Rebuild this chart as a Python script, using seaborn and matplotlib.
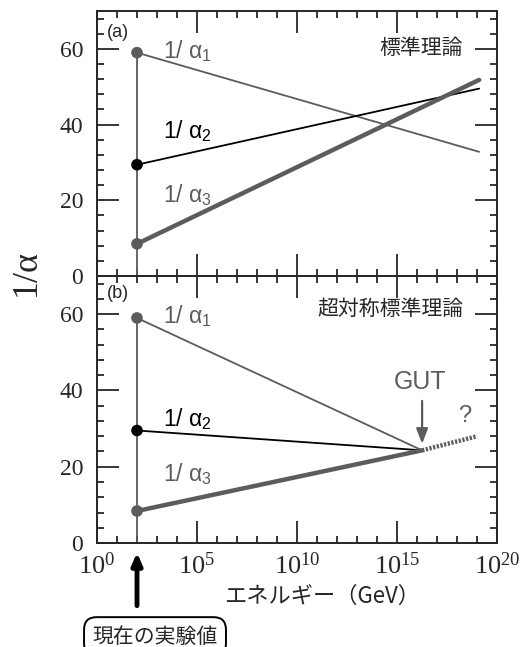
import numpy as np
import pandas as pd
import matplotlib
matplotlib.use("Agg")
import matplotlib.pyplot as plt
import seaborn as sns
from matplotlib.ticker import FixedLocator, FixedFormatter

# energies (GeV) and 1/alpha values
e_start = 1e2
e_end = 10 ** 19.1
e_gut = 10 ** 16.25
e_dot_end = 10 ** 19.0

sm_start = [59.0, 29.4, 8.5]
sm_end = [32.8, 49.5, 51.8]
susy_start = [59.0, 29.5, 8.4]
gut_value = 24.3
dot_end_value = 28.0

names = [r"1/ $\mathsf{\alpha}_{\mathsf{1}}$", r"1/ $\mathsf{\alpha}_{\mathsf{2}}$",
         r"1/ $\mathsf{\alpha}_{\mathsf{3}}$"]
sm_label_y = [59.3, 38.1, 21.4]
susy_label_y = [59.5, 32.3, 18.1]

x_major = [1e0, 1e5, 1e10, 1e15, 1e20]
x_major_labels = ["$10^{0}$", "$10^{5}$", "$10^{10}$", "$10^{15}$", "$10^{20}$"]
x_minor = [10.0 ** k for k in range(21)]

GRAY = "#5c5c5c"
colors = [GRAY, "black", GRAY]
widths = [1.3, 1.3, 3.2]

sns.set_style("ticks")
plt.rcParams["font.family"] = ["Liberation Sans", "DejaVu Sans", "Noto Sans CJK JP"]
plt.rcParams["mathtext.fontset"] = "custom"
plt.rcParams["mathtext.rm"] = "Liberation Serif"
plt.rcParams["mathtext.it"] = "Liberation Serif:italic"
plt.rcParams["mathtext.sf"] = "Liberation Sans"
SERIF = ["Liberation Serif", "DejaVu Serif"]
JP = ["Noto Sans CJK JP", "DejaVu Sans"]
SANS = ["Liberation Sans", "DejaVu Sans"]

fig = plt.figure(figsize=(5.3, 6.47), dpi=100)
ax_a = fig.add_axes([0.183, 0.5734, 0.755, 0.4096])
ax_b = fig.add_axes([0.183, 0.1607, 0.755, 0.4127])


def style_axes(ax, show_xlabels):
    ax.set_xscale("log")
    ax.set_xlim(1e0, 1e20)
    ax.set_ylim(0, 70)
    ax.xaxis.set_major_locator(FixedLocator(x_major))
    ax.xaxis.set_minor_locator(FixedLocator(x_minor))
    ax.xaxis.set_major_formatter(FixedFormatter(x_major_labels))
    ax.xaxis.set_minor_formatter(FixedFormatter([""] * len(x_minor)))
    ax.yaxis.set_major_locator(FixedLocator([0, 20, 40, 60]))
    ax.yaxis.set_minor_locator(FixedLocator(np.arange(0, 71, 4)))
    ax.tick_params(which="both", direction="in", top=True, right=True, width=1.1,
                   color="black")
    ax.tick_params(which="major", length=16)
    ax.tick_params(which="minor", length=5)
    ax.tick_params(axis="y", which="major", pad=10)
    ax.tick_params(axis="x", which="major", pad=7, labelbottom=show_xlabels)
    for lab in ax.get_yticklabels():
        lab.set_fontfamily(SERIF)
        lab.set_fontsize(17)
    for lab in ax.get_xticklabels():
        lab.set_fontsize(19)
    for sp in ax.spines.values():
        sp.set_linewidth(1.4)
    ax.set_xlabel("")
    ax.set_ylabel("")


# (a) standard model
ax_a.vlines(e_start, 0, sm_start[0], color=GRAY, lw=1.3)
for i in range(3):
    sns.lineplot(x=[e_start, e_end], y=[sm_start[i], sm_end[i]], ax=ax_a,
                 color=colors[i], lw=widths[i], estimator=None)
sns.scatterplot(x=[e_start] * 3, y=sm_start, ax=ax_a, hue=names, palette=colors,
                s=70, edgecolor="none", legend=False, zorder=5)
for i in range(3):
    ax_a.text(10 ** 3.3, sm_label_y[i], names[i], color=colors[i], fontsize=16.5,
              va="center", family=SANS)
ax_a.text(10 ** 0.5, 64.3, "(a)", fontsize=13, va="center")
ax_a.text(10 ** 18.3, 60.3, "標準理論", fontsize=15, ha="right", va="center",
          family=JP)

# (b) supersymmetric standard model
ax_b.vlines(e_start, 0, susy_start[0], color=GRAY, lw=1.3)
for i in range(3):
    sns.lineplot(x=[e_start, e_gut], y=[susy_start[i], gut_value], ax=ax_b,
                 color=colors[i], lw=widths[i], estimator=None)
ax_b.plot([e_gut, e_dot_end], [gut_value, dot_end_value], color=GRAY, lw=3.2,
          ls=(0, (0.5, 0.35)))
sns.scatterplot(x=[e_start] * 3, y=susy_start, ax=ax_b, hue=names, palette=colors,
                s=70, edgecolor="none", legend=False, zorder=5)
for i in range(3):
    ax_b.text(10 ** 3.3, susy_label_y[i], names[i], color=colors[i], fontsize=16.5,
              va="center", family=SANS)
ax_b.text(10 ** 0.5, 65.5, "(b)", fontsize=13, va="center")
ax_b.text(10 ** 18.3, 61.3, "超対称標準理論", fontsize=15, ha="right", va="center",
          family=JP)
ax_b.text(10 ** 16.15, 42.3, "GUT", fontsize=18, color=GRAY, ha="center", va="center")
ax_b.annotate("", xy=(e_gut, 25.3), xytext=(e_gut, 38.0),
              arrowprops=dict(arrowstyle="-|>,head_width=0.35,head_length=0.9",
                              color=GRAY, lw=1.6))
ax_b.text(10 ** 18.4, 33.3, "?", fontsize=17, color=GRAY, ha="center", va="center")

style_axes(ax_a, False)
style_axes(ax_b, True)

# axis titles
fig.text(0.05, 1 - 272 / 647, "1/α", rotation=90, fontsize=26, ha="center",
         va="center", family=SERIF)
ax_b.text(0.5625, -0.2, "エネルギー（GeV）", transform=ax_b.transAxes, fontsize=16,
          ha="center", va="center", family=JP)

# current experimental value marker below the axis
ax_b.annotate("", xy=(e_start, -0.025), xytext=(e_start, -0.245),
              xycoords=("data", "axes fraction"), textcoords=("data", "axes fraction"),
              arrowprops=dict(arrowstyle="-|>,head_width=0.3,head_length=0.7",
                              color="black", lw=3.5), annotation_clip=False)
ax_b.text(10 ** 2.9, -0.35, "現在の実験値", transform=ax_b.get_xaxis_transform(),
          fontsize=15, ha="center", va="center", family=JP,
          bbox=dict(boxstyle="round,pad=0.4,rounding_size=0.6", fc="white",
                    ec="black", lw=1.4), clip_on=False)

fig.savefig("out.png", dpi=100)
